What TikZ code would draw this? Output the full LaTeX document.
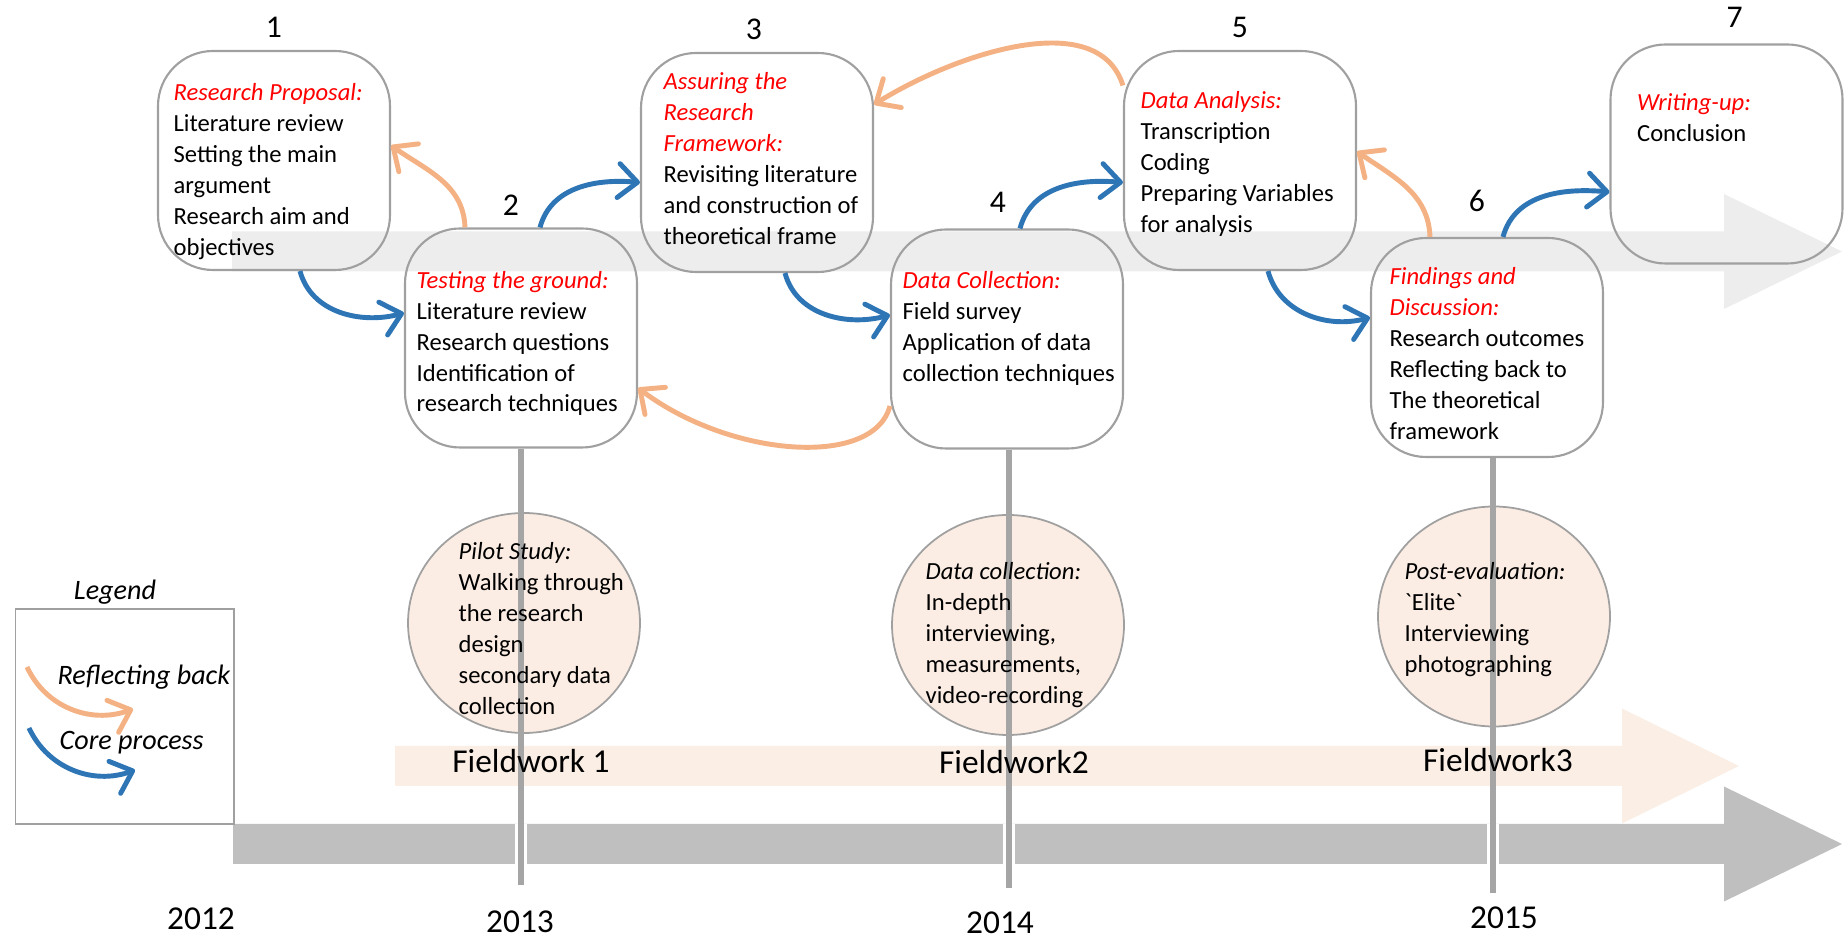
\documentclass[tikz,border=0pt]{standalone}
\usepackage{fontspec}
\setmainfont{Carlito}
\usetikzlibrary{arrows.meta,positioning,shapes.geometric}
\definecolor{boxgray}{RGB}{160,160,160}
\definecolor{linegray}{RGB}{165,165,165}
\definecolor{bandlight}{RGB}{237,237,237}
\definecolor{banddark}{RGB}{191,191,191}
\definecolor{peachband}{RGB}{251,238,229}
\definecolor{peachfill}{RGB}{251,237,227}
\definecolor{coreblue}{RGB}{46,117,182}
\definecolor{reflorange}{RGB}{244,177,131}
\definecolor{headred}{RGB}{255,0,0}

% red italic heading inside a stage box
\newcommand{\stagehead}[1]{\textcolor{headred}{\itshape #1}}
% wide block arrow: x start, x of head, x tip, y middle, colour
\newcommand{\fatarrow}[5]{%
  \fill[#5] (#1,#4+0.2) -- (#2,#4+0.2) -- (#2,#4+0.575) -- (#3,#4)
    -- (#2,#4-0.575) -- (#2,#4-0.2) -- (#1,#4-0.2) -- cycle;}

\begin{document}
\begin{tikzpicture}[
  every node/.style={font=\fontsize{7pt}{8.8pt}\selectfont},
  stagebox/.style={draw=boxgray,line width=0.6pt,rounded corners=0.55cm,
                   minimum width=2.32cm,minimum height=2.19cm},
  stagetext/.style={align=left,inner sep=0pt},
  stagenum/.style={font=\fontsize{9pt}{10pt}\selectfont},
  fieldcirc/.style={ellipse,draw=boxgray,line width=0.5pt,fill=peachfill,
                    minimum width=2.32cm,minimum height=2.2cm},
  fieldtext/.style={align=left,inner sep=0pt,anchor=north west},
  biglbl/.style={font=\fontsize{9.5pt}{11pt}\selectfont},
  legtext/.style={font=\fontsize{8pt}{9pt}\selectfont\itshape,inner sep=0pt,anchor=west},
  core/.style={-{Straight Barb[length=1.9mm,width=3.4mm,round]},line width=1.4pt,coreblue},
  reflect/.style={-{Straight Barb[length=1.9mm,width=3.4mm,round]},line width=1.4pt,reflorange},
  tline/.style={linegray,line width=1.7pt},
]
  \useasboundingbox (0,0) rectangle (18.47,9.38);

  % block arrows: stages, fieldwork, years
  \fatarrow{2.32}{17.24}{18.42}{6.865}{bandlight}
  \fatarrow{3.95}{16.22}{17.39}{1.72}{peachband}
  \fatarrow{2.33}{17.24}{18.42}{0.94}{banddark}

  % fieldwork circles
  \node[fieldcirc] (pilot) at (5.24,3.15) {};
  \node[fieldcirc] (datacoll) at (10.08,3.13) {};
  \node[fieldcirc] (posteval) at (14.94,3.215) {};

  % stages
  \node[stagebox] (proposal) at (2.74,7.775) {};
  \node[stagebox] (testing) at (5.21,6.0) {};
  \node[stagebox] (assuring) at (7.57,7.755) {};
  \node[stagebox] (collection) at (10.07,5.99) {};
  \node[stagebox] (analysis) at (12.40,7.775) {};
  \node[stagebox] (findings) at (14.87,5.905) {};
  \node[stagebox] (writing) at (17.265,7.84) {};

  % time lines down to the years
  \coordinate (y13) at (5.21,0.53);
  \coordinate (y14) at (10.09,0.50);
  \coordinate (y15) at (14.93,0.45);
  \foreach \t in {y13,y14,y15}
    \draw[white,line width=3.4pt] (\t |- 0,0.74) -- (\t |- 0,1.14);
  \draw[tline] (testing.south) -- (y13);
  \draw[tline] (collection.south -| y14) -- (y14);
  \draw[tline] (findings.south -| y15) -- (y15);

  % stage numbers
  \node[stagenum,above=0pt of proposal] {1};
  \node[stagenum,above=0pt of testing,xshift=-0.1cm] {2};
  \node[stagenum,above=0pt of assuring,xshift=-0.03cm] {3};
  \node[stagenum,above=0.04cm of collection,xshift=-0.09cm] {4};
  \node[stagenum,above=0pt of analysis] {5};
  \node[stagenum,above=0.13cm of findings,xshift=-0.1cm] {6};
  \node[stagenum,above=0.04cm of writing,xshift=0.08cm] {7};

  % stage texts
  \node[stagetext,below right=0.33cm and 0.16cm of proposal.north west] (proposaltxt)
    {\stagehead{Research Proposal:}\\Literature review\\Setting the main\\argument\\Research aim and\\objectives};
  \node[stagetext,below right=0.43cm and 0.12cm of testing.north west] (testingtxt)
    {\stagehead{Testing the ground:}\\Literature review\\Research questions\\Identification of\\research techniques};
  \node[stagetext,below right=0.20cm and 0.23cm of assuring.north west] (assuringtxt)
    {\stagehead{Assuring the}\\\stagehead{Research}\\\stagehead{Framework:}\\Revisiting literature\\and construction of\\theoretical frame};
  \node[stagetext,below right=0.42cm and 0.12cm of collection.north west] (collectiontxt)
    {\stagehead{Data Collection:}\\Field survey\\Application of data\\collection techniques};
  \node[stagetext,below right=0.41cm and 0.17cm of analysis.north west] (analysistxt)
    {\stagehead{Data Analysis:}\\Transcription\\Coding\\Preparing Variables\\for analysis};
  \node[stagetext,below right=0.30cm and 0.19cm of findings.north west] (findingstxt)
    {\stagehead{Findings and}\\\stagehead{Discussion:}\\Research outcomes\\Reflecting back to\\The theoretical\\framework};
  \node[stagetext,below right=0.49cm and 0.27cm of writing.north west] (writingtxt)
    {\stagehead{Writing-up:}\\Conclusion};

  % fieldwork texts
  \node[fieldtext] (pilottxt) at ([xshift=-0.66cm,yshift=0.81cm]pilot.center)
    {\textit{Pilot Study:}\\Walking through\\the research\\design\\secondary data\\collection};
  \node[fieldtext] (datacolltxt) at ([xshift=-0.83cm,yshift=0.63cm]datacoll.center)
    {\textit{Data collection:}\\In-depth\\interviewing,\\measurements,\\video-recording};
  \node[fieldtext] (posttxt) at ([xshift=-0.90cm,yshift=0.545cm]posteval.center)
    {\textit{Post-evaluation:}\\\textasciigrave Elite\textasciigrave\\Interviewing\\photographing};

  \node[biglbl] (fw1) at (5.31,1.77) {Fieldwork 1};
  \node[biglbl] (fw2) at (10.14,1.76) {Fieldwork2};
  \node[biglbl] (fw3) at (14.98,1.78) {Fieldwork3};

  % years
  \node[biglbl] (yr12) at (2.01,0.19) {2012};
  \node[biglbl] (yr13) at (5.20,0.16) {2013};
  \node[biglbl] (yr14) at (10.00,0.15) {2014};
  \node[biglbl] (yr15) at (15.04,0.20) {2015};

  % core process
  \draw[core] ([xshift=0.26cm]proposal.south) to[out=-75,in=195] ([yshift=0.25cm]testing.west);
  \draw[core] ([xshift=0.19cm]testing.north) to[out=75,in=175] ([yshift=-0.2cm]assuring.west);
  \draw[core] ([xshift=0.28cm]assuring.south) to[out=-75,in=195] ([yshift=0.24cm]collection.west);
  \draw[core] ([xshift=0.13cm]collection.north) to[out=75,in=175] ([yshift=-0.22cm]analysis.west);
  \draw[core] ([xshift=0.28cm]analysis.south) to[out=-75,in=195] ([yshift=0.30cm]findings.west);
  \draw[core] ([xshift=0.16cm]findings.north) to[out=75,in=175] ([yshift=-0.38cm]writing.west);

  % reflecting back
  \draw[reflect] ([xshift=-0.56cm]testing.north) to[out=92,in=-35] ([yshift=0.15cm]proposal.east);
  \draw[reflect] ([yshift=-0.67cm]collection.west) .. controls +(-0.16,-0.62) and +(0.93,-0.7)
    .. ([yshift=-0.5cm]testing.east);
  \draw[reflect] ([yshift=0.75cm]analysis.west) .. controls +(-0.25,0.8) and +(0.8,0.5)
    .. ([yshift=0.58cm]assuring.east);
  \draw[reflect] ([xshift=-0.57cm]findings.north) to[out=92,in=-35] ([yshift=0.09cm]analysis.east);

  % legend
  \node[draw=boxgray,line width=0.5pt,minimum width=2.185cm,minimum height=2.15cm] (legend) at (1.2475,2.215) {};
  \node[font=\fontsize{8pt}{9pt}\selectfont\itshape] (legendttl) at (1.15,3.46) {Legend};
  \coordinate (refa) at (0.27,2.71);
  \coordinate (refb) at (1.33,2.29);
  \coordinate (corea) at (0.29,2.10);
  \coordinate (coreb) at (1.35,1.68);
  \draw[reflect] (refa) to[out=-65,in=200] (refb);
  \draw[core] (corea) to[out=-65,in=200] (coreb);
  \node[legtext] (reflbl) at (0.57,2.61) {Reflecting back};
  \node[legtext] (corelbl) at (0.59,1.95) {Core process};
\end{tikzpicture}
\end{document}
